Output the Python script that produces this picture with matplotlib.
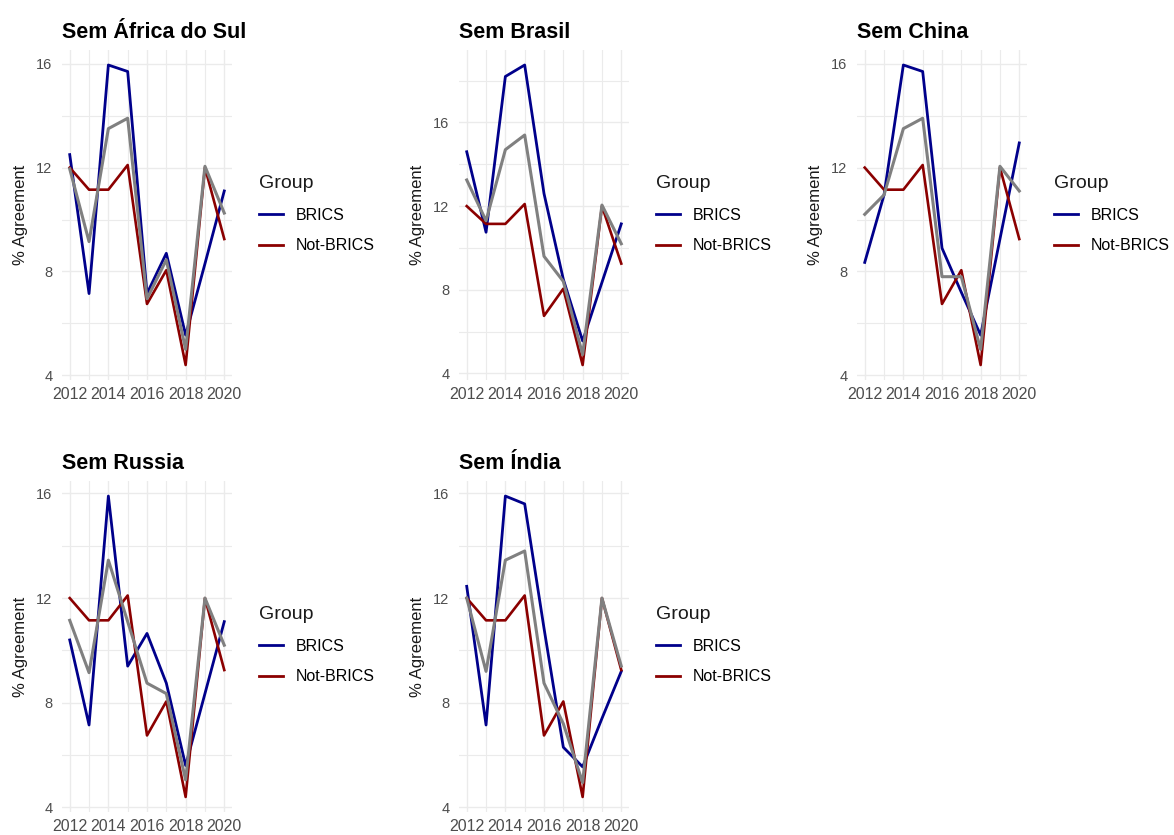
import matplotlib
matplotlib.use("Agg")
import matplotlib.pyplot as plt
from matplotlib.lines import Line2D
from matplotlib.ticker import MultipleLocator

plt.rcParams['font.family'] = ['Liberation Sans', 'DejaVu Sans']

# dados
years = [2012, 2013, 2014, 2015, 2016, 2017, 2018, 2019, 2020]
not_brics = [12.0, 11.15, 11.15, 12.1, 6.75, 8.05, 4.4, 12.0, 9.25]

titles = ["Sem África do Sul", "Sem Brasil", "Sem China", "Sem Russia", "Sem Índia"]

sem_africa_brics = [12.5, 7.15, 15.95, 15.7, 7.15, 8.7, 5.55, 8.3, 11.1]
sem_africa_total = [11.95, 9.15, 13.5, 13.9, 6.95, 8.45, 5.0, 12.05, 10.25]

sem_brasil_brics = [14.6, 10.75, 18.2, 18.75, 12.6, 8.5, 5.55, 8.35, 11.15]
sem_brasil_total = [13.25, 11.3, 14.7, 15.4, 9.6, 8.4, 4.9, 12.05, 10.2]

sem_china_brics = [8.35, 10.95, 15.95, 15.7, 8.9, 7.2, 5.55, 9.25, 12.95]
sem_china_total = [10.2, 10.95, 13.5, 13.9, 7.8, 7.8, 5.0, 12.05, 11.1]

sem_russia_brics = [10.4, 7.15, 15.9, 9.4, 10.65, 8.75, 5.6, 8.35, 11.1]
sem_russia_total = [11.15, 9.15, 13.45, 11.1, 8.75, 8.35, 5.05, 12.0, 10.2]

sem_india_brics = [12.45, 7.15, 15.9, 15.6, 10.85, 6.3, 5.55, 7.4, 9.2]
sem_india_total = [12.0, 9.2, 13.45, 13.8, 8.75, 7.2, 4.95, 12.0, 9.4]

brics_series = [sem_africa_brics, sem_brasil_brics, sem_china_brics, sem_russia_brics, sem_india_brics]
total_series = [sem_africa_total, sem_brasil_total, sem_china_total, sem_russia_total, sem_india_total]

# posicoes dos paineis em pixels (esquerda, topo, direita, base)
W, H = 1174, 835
panels = [(62, 50, 232, 380), (459, 50, 629, 380), (857, 50, 1027, 380),
          (62, 481, 232, 812), (459, 481, 629, 812)]

BLUE = "#00008B"
RED = "#8B0000"
GREY = "#808080"
GRID = "#EBEBEB"

fig = plt.figure(figsize=(W / 100, H / 100), dpi=100)

for i in range(5):
    l, t, r, b = panels[i]
    ax = fig.add_axes([l / W, 1 - b / H, (r - l) / W, (b - t) / H])
    ax.plot(years, brics_series[i], color=BLUE, lw=2.0)
    ax.plot(years, not_brics, color=RED, lw=1.9)
    ax.plot(years, total_series[i], color=GREY, lw=2.2)

    ax.xaxis.set_major_locator(MultipleLocator(2))
    ax.xaxis.set_minor_locator(MultipleLocator(1))
    ax.yaxis.set_major_locator(MultipleLocator(4))
    ax.yaxis.set_minor_locator(MultipleLocator(2))
    ax.grid(which='major', color=GRID, lw=1.0)
    ax.grid(which='minor', color=GRID, lw=0.8)
    ax.set_axisbelow(True)
    for s in ax.spines.values():
        s.set_visible(False)
    ax.tick_params(which='both', length=0)
    ax.tick_params(axis='x', labelsize=11.5, labelcolor='#4D4D4D', pad=5)
    ax.tick_params(axis='y', labelsize=10.5, labelcolor='#4D4D4D', pad=7)

    ax.set_title(titles[i], loc='left', fontsize=15.5, fontweight='bold', pad=9)
    ax.set_ylabel("% Agreement", fontsize=12, color='#1A1A1A', labelpad=6)

    handles = [Line2D([], [], color=BLUE, lw=2.0), Line2D([], [], color=RED, lw=2.0)]
    leg = ax.legend(handles, ["BRICS", "Not-BRICS"], title="Group",
                    loc='upper left', bbox_to_anchor=((r + 27) / W, 1 - (t + 125) / H),
                    bbox_transform=fig.transFigure, frameon=False, fontsize=11.5,
                    title_fontsize=14, handlelength=1.5, handletextpad=0.8,
                    labelspacing=0.98, borderpad=0, borderaxespad=0,
                    alignment='left')
    leg.get_title().set_color('#1A1A1A')

plt.savefig("out.png", dpi=100)
